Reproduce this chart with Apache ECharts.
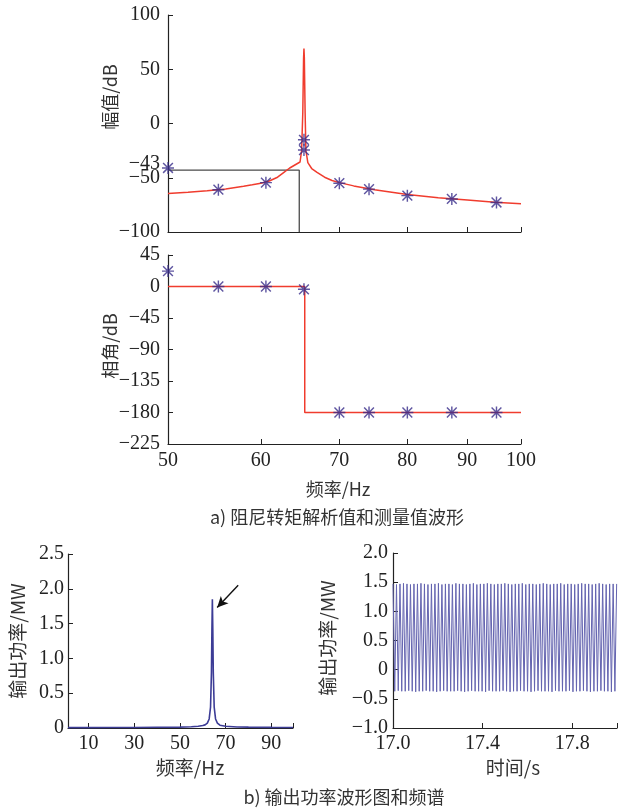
<!DOCTYPE html>
<html><head><meta charset="utf-8">
<script src="https://cdn.jsdelivr.net/npm/echarts@6/dist/echarts.min.js"></script>
<style>html,body{margin:0;padding:0;background:#fff}#c{width:618px;height:812px}</style>
</head><body><div id="c"></div>
<script>
// ---- a) magnitude (analytic curve) ----
const magFreq = [50, 52, 54, 56, 58, 59, 60, 61, 62, 62.7, 63.5, 64.2, 64.8, 65.0, 65.15, 65.25, 65.3, 65.35, 65.45, 65.55, 65.8, 66.3, 67, 68, 69, 70, 72, 75, 80, 85, 90, 95, 100];
const magVal  = [-64.5, -63.3, -62, -60.3, -57.8, -56.5, -55, -53, -49.5, -45.5, -41, -38, -35.5, -25, 10, 60, 69, 60, 10, -25, -36, -41.5, -45, -49.5, -52.5, -54.5, -57.5, -61, -65.5, -68.5, -70.5, -72.5, -74];
// measured magnitude points
const magMeasFreq = [50, 55.2, 60.6, 65.3, 65.3, 70, 74.2, 80, 87.3, 95.3];
const magMeasVal  = [-41, -61, -54.5, -15, -24.5, -55, -60.5, -66.5, -69.5, -72.8];
// boundary box
const boxFreq = [50, 64.7, 64.7];
const boxVal  = [-43, -43, -100];
// ---- a) phase ----
const phaseFreq = [50, 65.4, 65.4, 100];
const phaseVal  = [0, 0, -180, -180];
const phaseMeasFreq = [50, 55.2, 60.6, 65.3, 70, 74.2, 80, 87.3, 95.3];
const phaseMeasVal  = [22, 0, 0, -4, -180, -180, -180, -180, -180];
// tick labels
const freqTicks = [50, 60, 70, 80, 90, 100];
const magTickLabels = [-100, -50, -43, 0, 50, 100];
const magTicks = [-100, -50, 0, 50, 100];
// ---- b) spectrum ----
const specFreq = [1, 10, 20, 30, 40, 50, 55, 58, 60, 61, 62, 62.8, 63.4, 63.8, 64.0, 64.2, 64.4, 64.6, 65.0, 65.6, 66.4, 67.5, 70, 75, 80, 90, 99.5];
const specVal  = [0.005, 0.006, 0.007, 0.008, 0.01, 0.013, 0.018, 0.025, 0.035, 0.045, 0.07, 0.13, 0.3, 0.8, 1.4, 1.85, 1.4, 0.8, 0.3, 0.13, 0.07, 0.04, 0.025, 0.015, 0.012, 0.009, 0.008];
const specTickLabels = [10, 30, 50, 70, 90];
const arrowFrom = [75.5, 2.05];
const arrowTo = [66.3, 1.73];
// ---- b) waveform ----
const waveTime = [
17.0000, 17.0078, 17.0156, 17.0234, 17.0312, 17.0390, 17.0468, 17.0546,
17.0624, 17.0702, 17.0780, 17.0858, 17.0936, 17.1014, 17.1092, 17.1170,
17.1248, 17.1326, 17.1404, 17.1482, 17.1560, 17.1638, 17.1716, 17.1794,
17.1872, 17.1950, 17.2028, 17.2106, 17.2184, 17.2262, 17.2340, 17.2418,
17.2496, 17.2574, 17.2652, 17.2730, 17.2808, 17.2886, 17.2964, 17.3042,
17.3120, 17.3198, 17.3276, 17.3354, 17.3432, 17.3510, 17.3588, 17.3666,
17.3744, 17.3822, 17.3900, 17.3978, 17.4056, 17.4134, 17.4212, 17.4290,
17.4368, 17.4446, 17.4524, 17.4602, 17.4680, 17.4758, 17.4836, 17.4914,
17.4992, 17.5070, 17.5148, 17.5226, 17.5304, 17.5382, 17.5460, 17.5538,
17.5616, 17.5694, 17.5772, 17.5850, 17.5928, 17.6006, 17.6084, 17.6162,
17.6240, 17.6318, 17.6396, 17.6474, 17.6552, 17.6630, 17.6708, 17.6786,
17.6864, 17.6942, 17.7020, 17.7098, 17.7176, 17.7254, 17.7332, 17.7410,
17.7488, 17.7566, 17.7644, 17.7722, 17.7800, 17.7878, 17.7956, 17.8034,
17.8112, 17.8190, 17.8268, 17.8346, 17.8424, 17.8502, 17.8580, 17.8658,
17.8736, 17.8814, 17.8892, 17.8970, 17.9048, 17.9126, 17.9204, 17.9282,
17.9360, 17.9438, 17.9516, 17.9594, 17.9672, 17.9750, 17.9828, 17.9906,
17.9984];
const waveVal = [
1.47, -0.37, 1.46, -0.36, 1.47, -0.37, 1.48, -0.37,
1.47, -0.36, 1.46, -0.37, 1.47, -0.38, 1.47, -0.37,
1.48, -0.37, 1.47, -0.36, 1.46, -0.37, 1.47, -0.37,
1.47, -0.38, 1.48, -0.37, 1.46, -0.36, 1.47, -0.37,
1.47, -0.37, 1.46, -0.37, 1.48, -0.36, 1.47, -0.37,
1.47, -0.38, 1.46, -0.37, 1.47, -0.36, 1.48, -0.37,
1.46, -0.37, 1.47, -0.37, 1.47, -0.38, 1.48, -0.36,
1.47, -0.37, 1.46, -0.37, 1.47, -0.37, 1.47, -0.36,
1.48, -0.37, 1.47, -0.38, 1.46, -0.37, 1.47, -0.37,
1.47, -0.36, 1.48, -0.37, 1.46, -0.37, 1.47, -0.38,
1.47, -0.37, 1.46, -0.36, 1.47, -0.37, 1.48, -0.37,
1.47, -0.37, 1.46, -0.38, 1.47, -0.36, 1.47, -0.37,
1.48, -0.37, 1.46, -0.37, 1.47, -0.36, 1.47, -0.38,
1.46, -0.37, 1.47, -0.37, 1.48, -0.36, 1.47, -0.37,
1.47, -0.38, 1.46, -0.37, 1.47, -0.37, 1.48, -0.36,
1.47, -0.37, 1.46, -0.37, 1.47, -0.38, 1.47, -0.37,
1.47];
const waveTickLabels = [17.0, 17.4, 17.8];
const waveTicks = [17.0, 17.4, 17.8, 18.0];

// ---------- build ----------
const FONT = '"Liberation Serif","Noto Sans CJK SC",serif';
const CJK = '"Noto Sans CJK SC","Liberation Serif",serif';
const AX = '#222';
const lx = f => Math.log10(f);
const zip = (xs, ys, tx) => xs.map((x, i) => [tx ? tx(x) : x, ys[i]]);
const fmtNum = v => (v < 0 ? '\u2212' + Math.abs(v) : String(v));
const fmt1 = v => (v === 0 ? '0' : (v < 0 ? '\u2212' + Math.abs(v).toFixed(1) : v.toFixed(1)));

const star = 'path://M8.8 0L11.2 0L11.2 20L8.8 20Z M0 8.8L20 8.8L20 11.2L0 11.2Z M1 2.7L2.7 1L19 17.3L17.3 19Z M17.3 1L19 2.7L2.7 19L1 17.3Z';

function baseAxis(extra) {
  return Object.assign({
    axisLine: { show: true, onZero: false, lineStyle: { color: AX, width: 1.2 } },
    axisTick: { show: true, inside: true, length: 5, lineStyle: { color: AX, width: 1 } },
    splitLine: { show: false },
    axisLabel: { color: AX, fontFamily: FONT, fontSize: 20 }
  }, extra);
}

const logTicks = freqTicks.map(lx);

const option = {
  animation: false,
  backgroundColor: '#fff',
  grid: [
    { left: 168, top: 15, width: 353, height: 217 },
    { left: 168, top: 255, width: 353, height: 189 },
    { left: 68, top: 554, width: 225, height: 174 },
    { left: 393, top: 553, width: 224, height: 175 }
  ],
  xAxis: [
    baseAxis({ type: 'value', gridIndex: 0, min: lx(50), max: lx(100),
      axisTick: { show: true, inside: true, length: 5, customValues: logTicks, lineStyle: { color: AX } },
      axisLabel: { show: false } }),
    baseAxis({ type: 'value', gridIndex: 1, min: lx(50), max: lx(100),
      axisTick: { show: true, inside: true, length: 5, customValues: logTicks, lineStyle: { color: AX } },
      axisLabel: { color: AX, fontFamily: FONT, fontSize: 20, margin: 7, customValues: logTicks,
        formatter: v => String(Math.round(Math.pow(10, v))) } }),
    baseAxis({ type: 'value', gridIndex: 2, min: 1, max: 99.5,
      axisTick: { show: true, inside: true, length: 5, customValues: specTickLabels.concat([99.5]), lineStyle: { color: AX } },
      axisLabel: { color: AX, fontFamily: FONT, fontSize: 20, margin: 6, customValues: specTickLabels } }),
    baseAxis({ type: 'value', gridIndex: 3, min: 17.0, max: 18.0,
      axisTick: { show: true, inside: true, length: 5, customValues: waveTicks, lineStyle: { color: AX } },
      axisLabel: { color: AX, fontFamily: FONT, fontSize: 20, margin: 6, customValues: waveTickLabels,
        formatter: v => v.toFixed(1) } })
  ],
  yAxis: [
    baseAxis({ type: 'value', gridIndex: 0, min: -100, max: 100,
      axisTick: { show: true, inside: true, length: 5, customValues: magTicks, lineStyle: { color: AX } },
      axisLabel: { color: AX, fontFamily: FONT, fontSize: 20, margin: 8, customValues: magTickLabels,
        formatter: v => (v === -43 ? '{u|\u221243}' : fmtNum(v)),
        rich: { u: { fontFamily: FONT, fontSize: 20, color: AX, padding: [0, 0, 12, 0] } } } }),
    baseAxis({ type: 'value', gridIndex: 1, min: -225, max: 45, interval: 45,
      axisLabel: { color: AX, fontFamily: FONT, fontSize: 20, margin: 8, formatter: fmtNum } }),
    baseAxis({ type: 'value', gridIndex: 2, min: 0, max: 2.5, interval: 0.5,
      axisLabel: { color: AX, fontFamily: FONT, fontSize: 20, margin: 4, formatter: fmt1 } }),
    baseAxis({ type: 'value', gridIndex: 3, min: -1, max: 2, interval: 0.5,
      axisLabel: { color: AX, fontFamily: FONT, fontSize: 20, margin: 5, formatter: fmt1 } })
  ],
  series: [
    { type: 'line', xAxisIndex: 0, yAxisIndex: 0, data: zip(boxFreq, boxVal, lx), showSymbol: false,
      lineStyle: { color: '#4a4a4a', width: 1.3 }, silent: true, z: 1 },
    { type: 'line', xAxisIndex: 0, yAxisIndex: 0, data: zip(magFreq, magVal, lx), showSymbol: false,
      lineStyle: { color: '#f03c2e', width: 1.5 }, z: 2 },
    { type: 'scatter', xAxisIndex: 0, yAxisIndex: 0, data: zip(magMeasFreq, magMeasVal, lx), symbol: star,
      symbolSize: 12, itemStyle: { color: '#372c8a' }, clip: false, z: 3 },
    { type: 'line', xAxisIndex: 1, yAxisIndex: 1, data: zip(phaseFreq, phaseVal, lx), showSymbol: false,
      lineStyle: { color: '#f03c2e', width: 1.5 }, z: 2 },
    { type: 'scatter', xAxisIndex: 1, yAxisIndex: 1, data: zip(phaseMeasFreq, phaseMeasVal, lx), symbol: star,
      symbolSize: 12, itemStyle: { color: '#372c8a' }, clip: false, z: 3 },
    { type: 'line', xAxisIndex: 2, yAxisIndex: 2, data: zip(specFreq, specVal), showSymbol: false,
      lineStyle: { color: '#3c3c96', width: 1.6 }, z: 2,
      markLine: { silent: true, symbol: ['none', 'arrow'], symbolSize: [8, 11], label: { show: false },
        lineStyle: { color: '#111', width: 1.4, type: 'solid' },
        data: [[{ coord: arrowFrom }, { coord: arrowTo }]] } },
    { type: 'line', xAxisIndex: 3, yAxisIndex: 3, data: zip(waveTime, waveVal), showSymbol: false,
      lineStyle: { color: '#6464b0', width: 1 }, z: 2 }
  ],
  graphic: [
    { type: 'text', x: 110, y: 97, rotation: Math.PI / 2, style: { text: '幅值/dB', font: '18px ' + CJK, fill: '#333', align: 'center', verticalAlign: 'middle' } },
    { type: 'text', x: 110, y: 346, rotation: Math.PI / 2, style: { text: '相角/dB', font: '18px ' + CJK, fill: '#333', align: 'center', verticalAlign: 'middle' } },
    { type: 'text', x: 338, y: 489, style: { text: '频率/Hz', font: '18px ' + CJK, fill: '#333', align: 'center', verticalAlign: 'middle' } },
    { type: 'text', x: 337, y: 517, style: { text: 'a) 阻尼转矩解析值和测量值波形', font: '18px ' + CJK, fill: '#333', align: 'center', verticalAlign: 'middle' } },
    { type: 'text', x: 18, y: 641, rotation: Math.PI / 2, style: { text: '输出功率/MW', font: '19px ' + CJK, fill: '#333', align: 'center', verticalAlign: 'middle' } },
    { type: 'text', x: 190, y: 768, style: { text: '频率/Hz', font: '19px ' + CJK, fill: '#333', align: 'center', verticalAlign: 'middle' } },
    { type: 'text', x: 328, y: 638, rotation: Math.PI / 2, style: { text: '输出功率/MW', font: '19px ' + CJK, fill: '#333', align: 'center', verticalAlign: 'middle' } },
    { type: 'text', x: 513, y: 768, style: { text: '时间/s', font: '19px ' + CJK, fill: '#333', align: 'center', verticalAlign: 'middle' } },
    { type: 'text', x: 344, y: 797, style: { text: 'b) 输出功率波形图和频谱', font: '18px ' + CJK, fill: '#333', align: 'center', verticalAlign: 'middle' } }
  ]
};

const chart = echarts.init(document.getElementById('c'), null, { renderer: 'canvas' });
chart.setOption(option);
</script>
</body></html>
